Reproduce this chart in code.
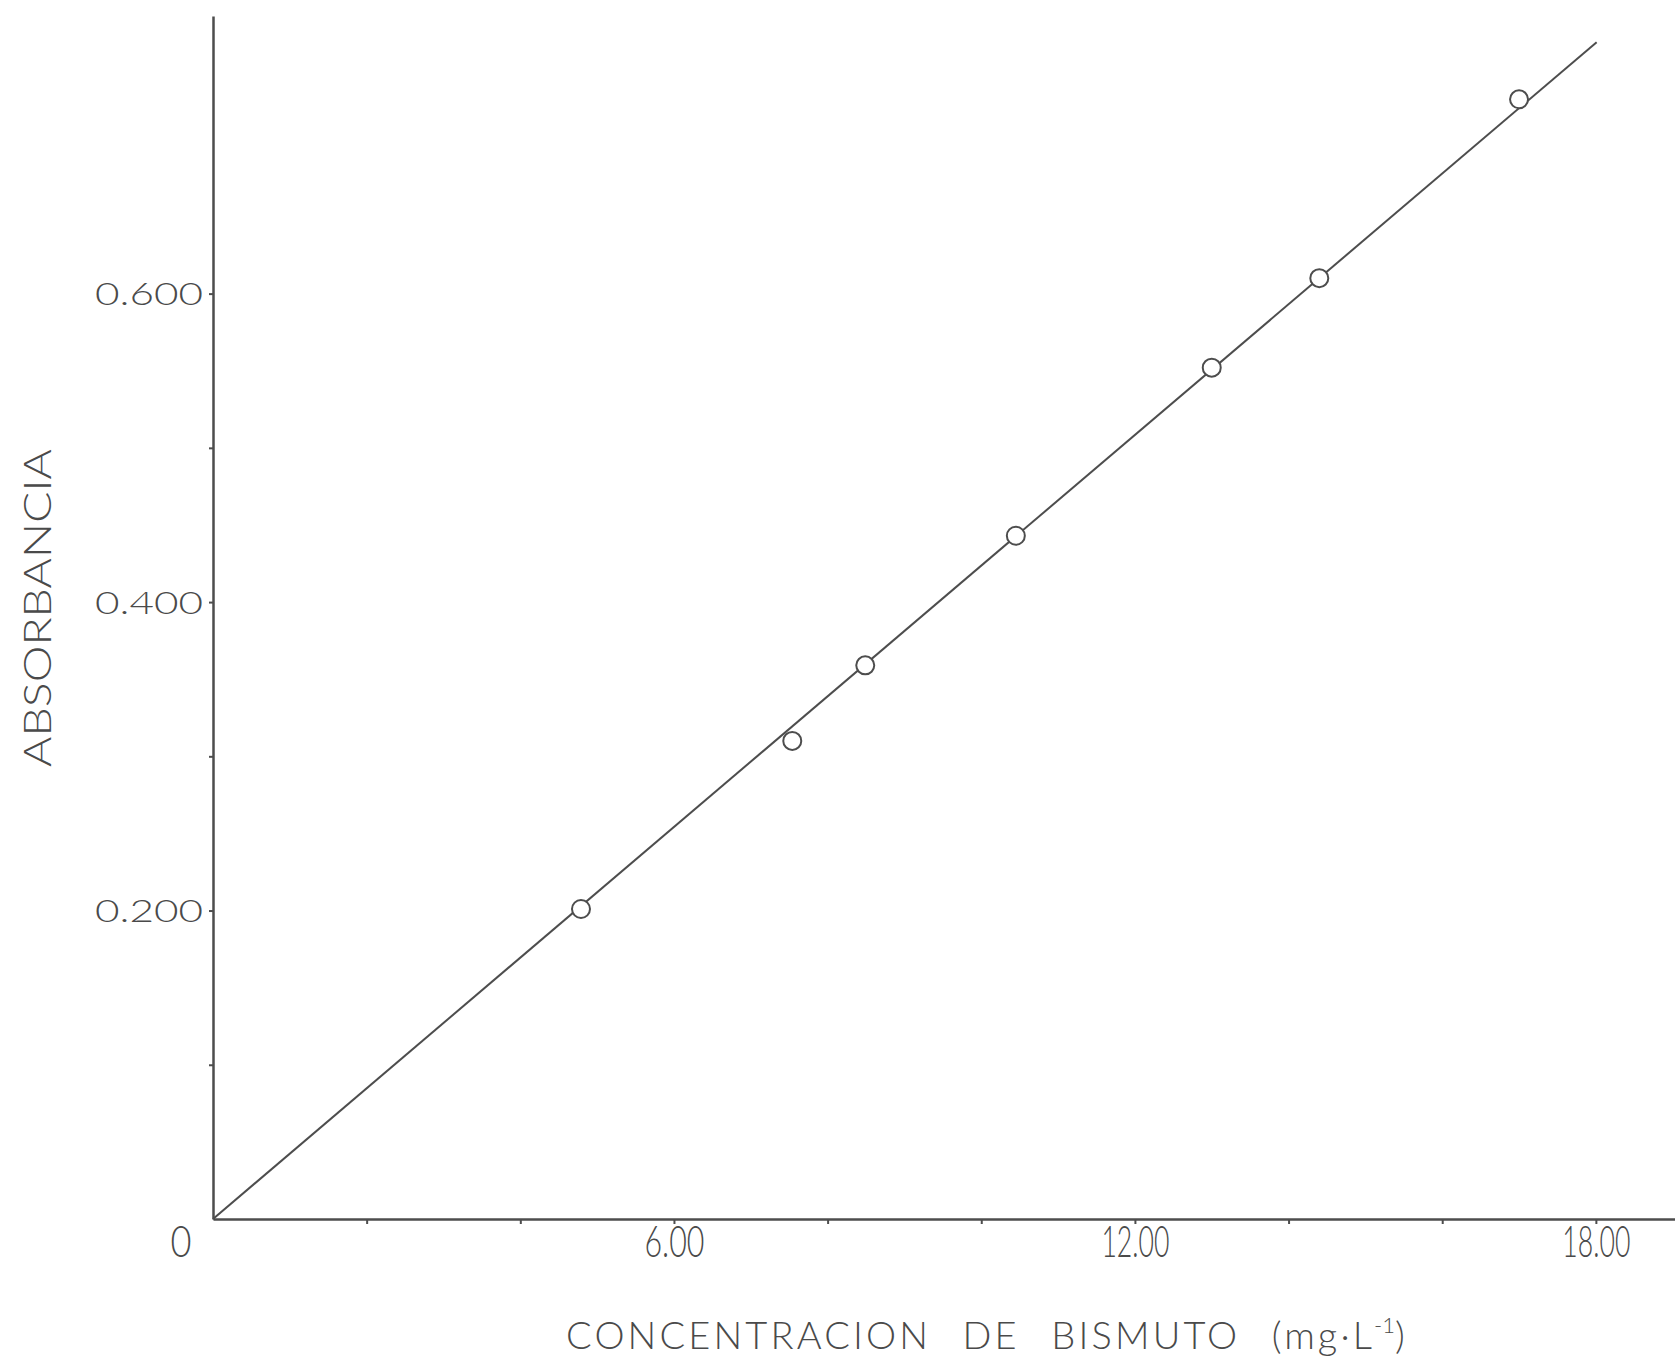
<!DOCTYPE html>
<html>
<head>
<meta charset="utf-8">
<script src="https://cdn.jsdelivr.net/npm/d3@7"></script>
<style>
  body { margin: 0; background: #fff; }
  text { font-family: Lato, 'Open Sans', sans-serif; font-weight: 300; fill: #4a4a4a; }
</style>
</head>
<body>
<div id="chart"></div>
<script>
// data
const concentracion = [4.79, 7.54, 8.49, 10.45, 13.0, 14.4, 17.0]
const absorbancia = [0.201, 0.31, 0.359, 0.443, 0.552, 0.61, 0.726]

// fitted line, its two ends
const lineX = [0, 18.01]
const lineY = [0, 0.763]

const xTicks = [2, 4, 6, 8, 10, 12, 14, 16, 18]
const xLabels = { 6: '6.00', 12: '12.00', 18: '18.00' }
const yTicks = [0.1, 0.2, 0.3, 0.4, 0.5, 0.6]
const yLabels = { 0.2: '0.200', 0.4: '0.400', 0.6: '0.600' }

const width = 1675
const height = 1367
const ink = '#4d4d4d'

const svg = d3
  .select('#chart')
  .append('svg')
  .attr('width', width)
  .attr('height', height)

const xPositionScale = d3
  .scaleLinear()
  .domain([0, 19.03])
  .range([213, 1675])

const yPositionScale = d3
  .scaleLinear()
  .domain([0, 0.78])
  .range([1219, 16])

// axes
const xAxis = d3
  .axisBottom(xPositionScale)
  .tickValues(xTicks)
  .tickSize(5)
  .tickSizeOuter(0)
  .tickFormat(d => xLabels[d] || '')

const yAxis = d3
  .axisLeft(yPositionScale)
  .tickValues(yTicks)
  .tickSize(4)
  .tickSizeOuter(0)
  .tickPadding(6)
  .tickFormat(d => yLabels[d] || '')

const gx = svg
  .append('g')
  .attr('transform', 'translate(0,' + yPositionScale(0) + ')')
  .call(xAxis)

gx.select('.domain').attr('stroke', ink).attr('stroke-width', 2.5)
gx.selectAll('.tick line').attr('stroke', ink).attr('stroke-width', 2)
gx.selectAll('.tick text')
  .attr('y', 38)
  .attr('dy', 0)
  .style('font-size', '44px')
  .attr('fill', ink)
  .attr('textLength', d => (xLabels[d] ? (d === 6 ? 60 : 68) : null))
  .attr('lengthAdjust', 'spacingAndGlyphs')

const gy = svg
  .append('g')
  .attr('transform', 'translate(' + xPositionScale(0) + ',0)')
  .call(yAxis)

gy.select('.domain').attr('stroke', ink).attr('stroke-width', 2.5)
gy.selectAll('.tick line').attr('stroke', ink).attr('stroke-width', 2)
gy.selectAll('.tick text')
  .attr('dy', '0.36em')
  .style('font-size', '31px')
  .attr('fill', ink)
  .attr('textLength', d => (yLabels[d] ? 108 : null))
  .attr('lengthAdjust', 'spacingAndGlyphs')

// origin label
svg
  .append('text')
  .text('0')
  .attr('x', xPositionScale(0) - 32)
  .attr('y', yPositionScale(0) + 38)
  .attr('text-anchor', 'middle')
  .style('font-size', '44px')
  .attr('textLength', 21)
  .attr('lengthAdjust', 'spacingAndGlyphs')

// regression line
const line = d3
  .line()
  .x(d => xPositionScale(d[0]))
  .y(d => yPositionScale(d[1]))

svg
  .append('path')
  .datum(d3.zip(lineX, lineY))
  .attr('d', line)
  .attr('fill', 'none')
  .attr('stroke', ink)
  .attr('stroke-width', 2)

// points
svg
  .selectAll('.point')
  .data(d3.zip(concentracion, absorbancia))
  .enter()
  .append('circle')
  .attr('class', 'point')
  .attr('cx', d => xPositionScale(d[0]))
  .attr('cy', d => yPositionScale(d[1]))
  .attr('r', 9)
  .attr('fill', '#fff')
  .attr('stroke', ink)
  .attr('stroke-width', 2)

// axis titles
svg
  .append('text')
  .attr('x', 566)
  .attr('y', 1349)
  .style('font-size', '38px')
  .style('word-spacing', '18px')
  .attr('textLength', 806)
  .attr('lengthAdjust', 'spacing')
  .text('CONCENTRACION DE BISMUTO (mg·L')

svg
  .append('text')
  .attr('x', 1374)
  .attr('y', 1333)
  .style('font-size', '22px')
  .text('-1')

svg
  .append('text')
  .attr('x', 1395)
  .attr('y', 1349)
  .style('font-size', '38px')
  .text(')')

svg
  .append('text')
  .text('ABSORBANCIA')
  .attr('transform', 'translate(51,608) rotate(-90)')
  .attr('text-anchor', 'middle')
  .style('font-size', '38px')
  .attr('textLength', 318)
  .attr('lengthAdjust', 'spacingAndGlyphs')
</script>
</body>
</html>
